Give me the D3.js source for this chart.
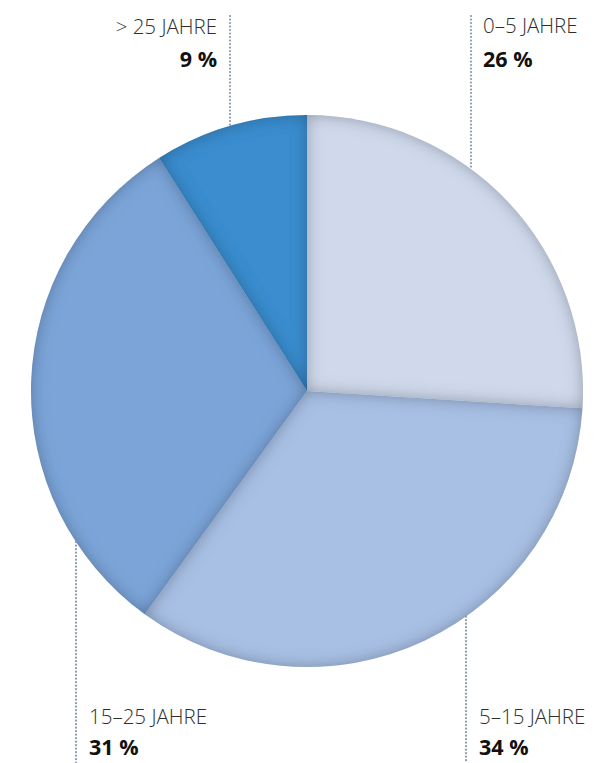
<!DOCTYPE html>
<html><head><meta charset="utf-8">
<script src="https://cdn.jsdelivr.net/npm/d3@7"></script>
<style>
html,body{margin:0;padding:0;background:#fff;}
svg{display:block;}
</style></head>
<body>
<script>
// ---- data ----
const categories = ["0–5 JAHRE", "5–15 JAHRE", "15–25 JAHRE", "> 25 JAHRE"];
const values = [26, 34, 31, 9];
const valueLabels = ["26 %", "34 %", "31 %", "9 %"];
const colors = ["#cfd9eb", "#a8c0e4", "#7ca4d8", "#3a8dcf"];

// ---- layout ----
const W = 614, H = 763;
const cx = 307, cy = 391, R = 276;
const labelLayout = [
  {lineX: 471, side: "top",    anchor: "start", tx: 483, ly: 33,  vy: 67},
  {lineX: 466, side: "bottom", anchor: "start", tx: 479, ly: 724, vy: 755},
  {lineX: 76,  side: "bottom", anchor: "start", tx: 89,  ly: 724, vy: 755},
  {lineX: 230, side: "top",    anchor: "end",   tx: 217, ly: 34,  vy: 67}
];

const svg = d3.select("body").append("svg").attr("width", W).attr("height", H);
const defs = svg.append("defs");

const f = defs.append("filter").attr("id", "inner").attr("x", "-10%").attr("y", "-10%").attr("width", "120%").attr("height", "120%");
f.append("feFlood").attr("flood-color", "#1e2b45").attr("flood-opacity", 0.6).attr("result", "flood");
f.append("feComposite").attr("in", "flood").attr("in2", "SourceAlpha").attr("operator", "out").attr("result", "outside");
f.append("feGaussianBlur").attr("in", "outside").attr("stdDeviation", 8).attr("result", "blur");
f.append("feComposite").attr("in", "blur").attr("in2", "SourceAlpha").attr("operator", "in").attr("result", "shadow");
const m = f.append("feMerge");
m.append("feMergeNode").attr("in", "SourceGraphic");
m.append("feMergeNode").attr("in", "shadow");

const pie = d3.pie().sort(null).value(d => d);
const arcs = pie(values);
const arc = d3.arc().innerRadius(0).outerRadius(R);

const g = svg.append("g").attr("transform", `translate(${cx},${cy})`);
g.selectAll("path.slice").data(arcs).join("path")
  .attr("class", "slice")
  .attr("d", arc)
  .attr("fill", (d, i) => colors[i])
  .attr("filter", "url(#inner)");

labelLayout.forEach((L, i) => {
  const dx = L.lineX - cx;
  const dy = Math.sqrt(R * R - dx * dx);
  const yEdge = L.side === "top" ? cy - dy : cy + dy;
  const y1 = L.side === "top" ? 16 : yEdge;
  const y2 = L.side === "top" ? yEdge : H;
  svg.append("line")
    .attr("x1", L.lineX).attr("x2", L.lineX)
    .attr("y1", y1).attr("y2", y2)
    .attr("stroke", "#8f9cb0").attr("stroke-width", 2.2)
    .attr("stroke-linecap", "round")
    .attr("stroke-dasharray", "0.1 3.4");
  svg.append("text")
    .attr("x", L.tx).attr("y", L.ly)
    .attr("text-anchor", L.anchor)
    .attr("font-family", "'Open Sans', sans-serif")
    .attr("font-weight", 300)
    .attr("font-size", 20.5)
    .attr("fill", "#2e2e2e")
    .text(categories[i]);
  svg.append("text")
    .attr("x", L.tx).attr("y", L.vy)
    .attr("text-anchor", L.anchor)
    .attr("font-family", "'Open Sans', sans-serif")
    .attr("font-weight", 700)
    .attr("font-size", 21.5)
    .attr("fill", "#111")
    .text(valueLabels[i]);
});
</script>
</body></html>
